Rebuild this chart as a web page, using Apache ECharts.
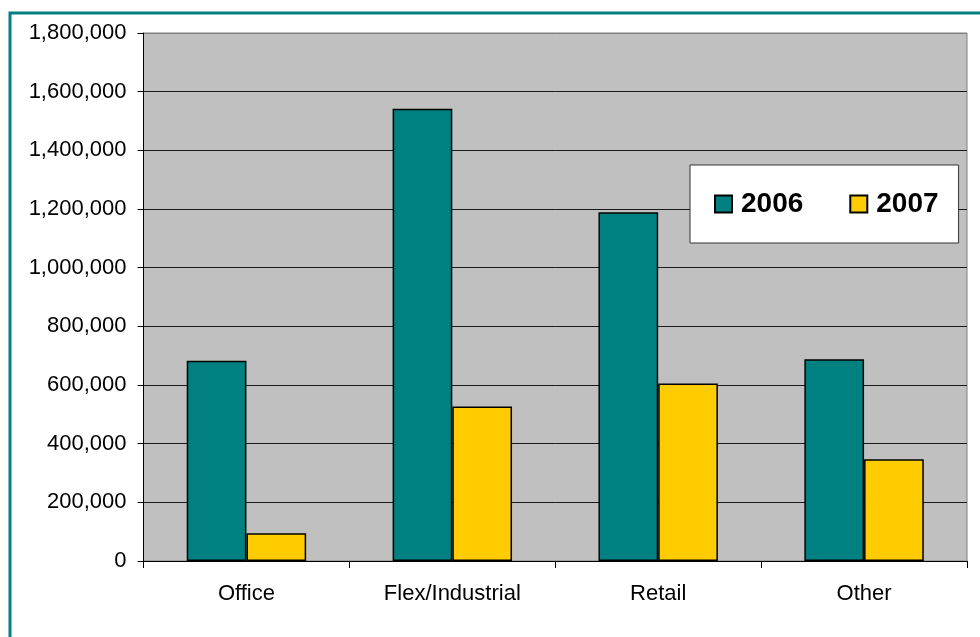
<!DOCTYPE html>
<html>
<head>
<meta charset="utf-8">
<script src="https://cdn.jsdelivr.net/npm/echarts@6/dist/echarts.min.js"></script>
<style>
html,body{margin:0;padding:0;background:#fff;}
#chart{width:980px;height:637px;}
</style>
</head>
<body>
<div id="chart"></div>
<script>
const categories = ['Office', 'Flex/Industrial', 'Retail', 'Other'];
const seriesNames = ['2006', '2007'];
const values2006 = [683000, 1542000, 1189000, 688000];
const values2007 = [95000, 527000, 605000, 347000];
const yTicks = { min: 0, max: 1800000, interval: 200000 };

const chart = echarts.init(document.getElementById('chart'));
const font = 'Liberation Sans, Arial, sans-serif';
const splitColors = ['#1a1a1a','#1a1a1a','#1a1a1a','#1a1a1a','#1a1a1a','#1a1a1a','#1a1a1a','#1a1a1a','#1a1a1a','#808080'];
chart.setOption({
  animation: false,
  backgroundColor: '#ffffff',
  graphic: [{
    type: 'rect',
    shape: { x: 10, y: 13, width: 1000, height: 700 },
    style: { fill: 'none', stroke: '#008080', lineWidth: 3 },
    z: 100
  }],
  grid: {
    left: 143.5, right: 13, top: 33, bottom: 76,
    show: true, backgroundColor: '#C0C0C0', borderColor: '#808080', borderWidth: 1
  },
  legend: {
    data: seriesNames,
    left: 690, top: 165,
    orient: 'horizontal',
    padding: [25, 20, 25, 24],
    itemGap: 46,
    itemWidth: 17, itemHeight: 17,
    backgroundColor: '#ffffff',
    borderColor: '#333333', borderWidth: 1,
    textStyle: { fontFamily: font, fontSize: 28, fontWeight: 'bold', color: '#000', padding: [0, 0, 0, 4] },
    icon: 'rect'
  },
  xAxis: {
    type: 'category',
    data: categories,
    axisLine: { lineStyle: { color: '#000', width: 1 } },
    axisTick: { show: true, length: 7, lineStyle: { color: '#000' } },
    axisLabel: { fontFamily: font, fontSize: 22, color: '#000', margin: 22 },
    splitLine: { show: false }
  },
  yAxis: {
    type: 'value',
    min: yTicks.min, max: yTicks.max, interval: yTicks.interval,
    axisLine: { show: true, lineStyle: { color: '#000', width: 1 } },
    axisTick: { show: true, length: 6, lineStyle: { color: '#000' } },
    axisLabel: {
      fontFamily: font, fontSize: 22, color: '#000', margin: 17,
      formatter: v => v.toLocaleString('en-US')
    },
    splitLine: { show: true, lineStyle: { color: splitColors, width: 1 } }
  },
  series: [
    {
      name: seriesNames[0], type: 'bar', data: values2006,
      barGap: '0%', barCategoryGap: '42%',
      itemStyle: { color: '#008080', borderColor: '#000', borderWidth: 1.5 }
    },
    {
      name: seriesNames[1], type: 'bar', data: values2007,
      barGap: '0%', barCategoryGap: '42%',
      itemStyle: { color: '#FFCC00', borderColor: '#000', borderWidth: 1.5 }
    }
  ]
});
</script>
</body>
</html>
